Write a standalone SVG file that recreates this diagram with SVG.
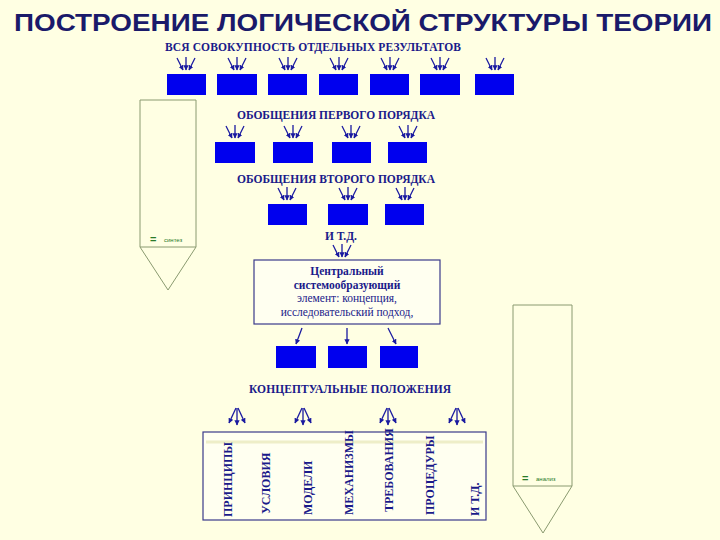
<svg xmlns="http://www.w3.org/2000/svg" width="720" height="540" viewBox="0 0 720 540">
<defs>
<marker id="ah" viewBox="0 0 10 10" refX="9" refY="5" markerWidth="4" markerHeight="4" orient="auto"><path d="M0,0L10,5L0,10z" fill="#1a1aa0"/></marker>
<style>
.bx{fill:#0000ee}
.lb{font-family:"Liberation Serif",serif;font-weight:bold;font-size:11.5px;fill:#1a1a8a;text-anchor:middle}
.nw{font-weight:normal}
.vt{font-family:"Liberation Serif",serif;font-weight:bold;font-size:12px;fill:#1a1a8a}
.ar line,.ar{stroke:#1a1aa0;stroke-width:1.3;fill:none;marker-end:url(#ah)}
.pn{fill:none;stroke:#8a9a70;stroke-width:1}
.gt{font-family:"Liberation Sans",sans-serif;font-size:6px;fill:#2a7a2a}
</style>
<g id="tri" class="ar"><line x1="-1" y1="0" x2="5" y2="12"/><line x1="8" y1="-1" x2="8" y2="12"/><line x1="17" y1="0" x2="11" y2="12"/></g>
<g id="div" class="ar"><line x1="1" y1="0" x2="-6" y2="15"/><line x1="2" y1="0" x2="2" y2="17"/><line x1="3" y1="0" x2="10" y2="15"/></g>
</defs>
<rect width="720" height="540" fill="#ffffe3"/>
<text x="14" y="31" textLength="698" lengthAdjust="spacingAndGlyphs" font-family="Liberation Sans,sans-serif" font-weight="bold" font-size="23.5" fill="#1a1a6a">ПОСТРОЕНИЕ ЛОГИЧЕСКОЙ СТРУКТУРЫ ТЕОРИИ</text>
<g id="leftpent"><path class="pn" d="M140,100H196V247L168,290L140,247Z"/><line x1="140" y1="247" x2="196" y2="247" class="pn"/><text x="150" y="243" font-family="Liberation Sans,sans-serif" font-weight="bold" font-size="11" fill="#2a7a2a">=</text><text x="164" y="242" class="gt">синтез</text></g>
<g id="rightpent"><path class="pn" d="M513,305H572V486L543,533L513,486Z"/><line x1="513" y1="486" x2="572" y2="486" class="pn"/><text x="522" y="482" font-family="Liberation Sans,sans-serif" font-weight="bold" font-size="11" fill="#2a7a2a">=</text><text x="536" y="481" class="gt">анализ</text></g>
<g id="row1"><text x="313" y="51" class="lb" textLength="296">ВСЯ СОВОКУПНОСТЬ ОТДЕЛЬНЫХ РЕЗУЛЬТАТОВ</text>
<rect class="bx" x="167" y="74" width="39" height="21"/><rect class="bx" x="217" y="74" width="40" height="21"/><rect class="bx" x="268" y="74" width="39" height="21"/><rect class="bx" x="319" y="74" width="39" height="21"/><rect class="bx" x="370" y="74" width="39" height="21"/><rect class="bx" x="420" y="74" width="40" height="21"/><rect class="bx" x="475" y="74" width="39" height="21"/></g>
<g id="row2"><text x="336" y="119" class="lb" textLength="198">ОБОБЩЕНИЯ ПЕРВОГО ПОРЯДКА</text>
<rect class="bx" x="215" y="142" width="40" height="21"/><rect class="bx" x="273" y="142" width="40" height="21"/><rect class="bx" x="332" y="142" width="39" height="21"/><rect class="bx" x="388" y="142" width="39" height="21"/></g>
<g id="row3"><text x="336" y="183" class="lb" textLength="198">ОБОБЩЕНИЯ ВТОРОГО ПОРЯДКА</text>
<rect class="bx" x="268" y="204" width="39" height="21"/><rect class="bx" x="328" y="204" width="40" height="21"/><rect class="bx" x="385" y="204" width="39" height="21"/>
<text x="341" y="240" class="lb">И  Т.Д.</text></g>
<g id="central"><rect x="254" y="260" width="186" height="64" fill="#fffff0" stroke="#3a3a8a" stroke-width="1.2"/>
<text x="347" y="275" class="lb">Центральный</text>
<text x="347" y="289" class="lb">системообразующий</text>
<text x="347" y="302" class="lb nw">элемент: концепция,</text>
<text x="347" y="316" class="lb nw">исследовательский подход,</text></g>
<g id="row4"><rect class="bx" x="276" y="346" width="40" height="22"/><rect class="bx" x="328" y="346" width="39" height="22"/><rect class="bx" x="380" y="346" width="38" height="22"/>
<text x="350" y="393" class="lb" textLength="202">КОНЦЕПТУАЛЬНЫЕ ПОЛОЖЕНИЯ</text></g>
<g id="bottom"><rect x="203" y="432" width="283" height="88" fill="#fffff0" stroke="#3a3a8a" stroke-width="1.2"/>
<line x1="206" y1="442" x2="483" y2="442" stroke="#eeeec8" stroke-width="3"/>
<text class="vt" transform="translate(232,517) rotate(-90)">ПРИНЦИПЫ</text>
<text class="vt nw" transform="translate(270,514) rotate(-90)">УСЛОВИЯ</text>
<text class="vt" transform="translate(312,515) rotate(-90)">МОДЕЛИ</text>
<text class="vt" transform="translate(353,515) rotate(-90)">МЕХАНИЗМЫ</text>
<text class="vt" transform="translate(393,512) rotate(-90)">ТРЕБОВАНИЯ</text>
<text class="vt" transform="translate(434,515) rotate(-90)">ПРОЦЕДУРЫ</text>
<text class="vt" transform="translate(479,516) rotate(-90)">И Т.Д.</text></g>
<g id="connectors">
<use href="#tri" x="178" y="58"/><use href="#tri" x="229" y="58"/><use href="#tri" x="280" y="58"/><use href="#tri" x="331" y="58"/><use href="#tri" x="382" y="58"/><use href="#tri" x="432" y="58"/><use href="#tri" x="487" y="58"/>
<use href="#tri" x="227" y="126"/><use href="#tri" x="285" y="126"/><use href="#tri" x="343" y="126"/><use href="#tri" x="400" y="126"/>
<use href="#tri" x="279" y="188"/><use href="#tri" x="340" y="188"/><use href="#tri" x="397" y="188"/>
<use href="#tri" x="334" y="245"/>
<g class="ar"><line x1="302" y1="328" x2="296" y2="344"/><line x1="347" y1="328" x2="347" y2="344"/><line x1="388" y1="328" x2="396" y2="344"/></g>
<use href="#div" x="235" y="408"/><use href="#div" x="301" y="408"/><use href="#div" x="386" y="408"/><use href="#div" x="455" y="408"/>
</g>
</svg>
